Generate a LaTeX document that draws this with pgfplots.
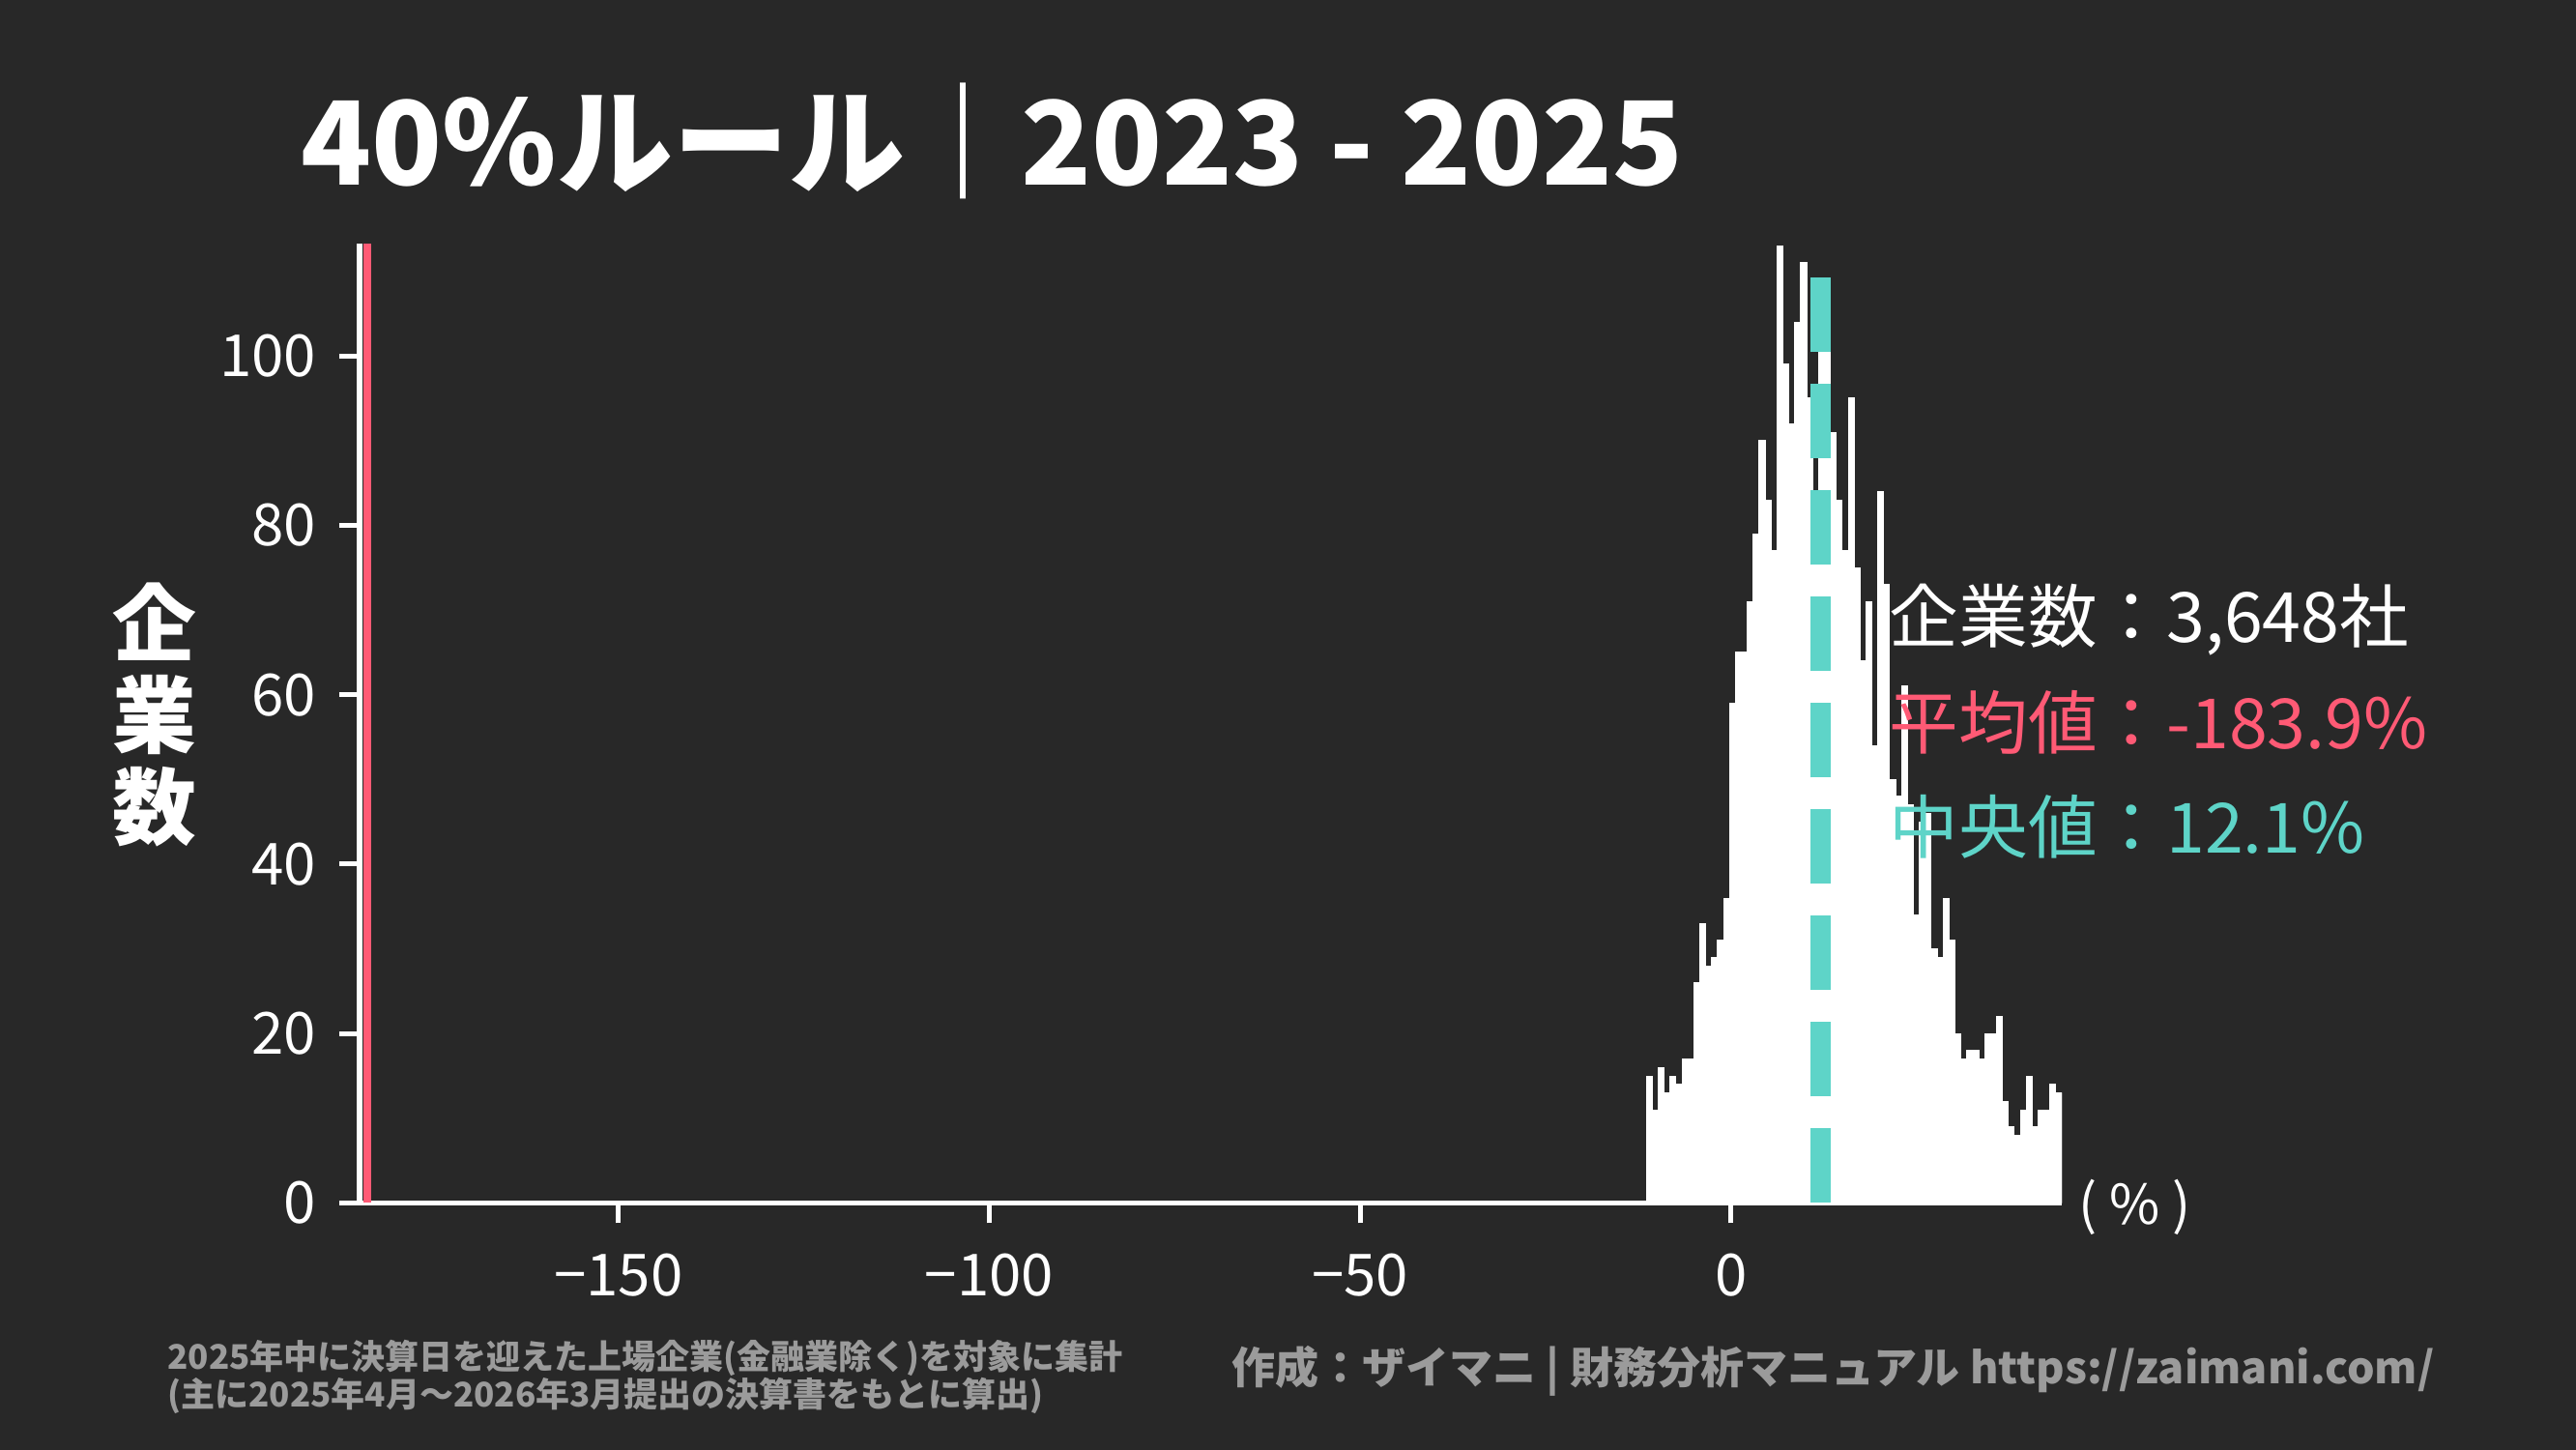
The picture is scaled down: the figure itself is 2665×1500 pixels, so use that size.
\documentclass[border=0pt]{standalone}
\usepackage{fontspec}
\setmainfont{Noto Sans CJK JP}
\usepackage{pgfplots}
\pgfplotsset{compat=1.18}

\definecolor{bg}{RGB}{40,40,40}
\definecolor{meanred}{RGB}{255,90,117}
\definecolor{medteal}{RGB}{94,212,200}
\definecolor{foot}{RGB}{155,155,155}

% histogram: left edge of each 0.8-wide bin, count
\pgfplotstableread{
x y
-11.4 15
-10.6 11
-9.8 16
-9.0 13
-8.2 15
-7.4 14
-6.6 17
-5.8 17
-5.0 26
-4.2 33
-3.4 28
-2.6 29
-1.8 31
-1.0 36
-0.2 59
0.6 65
1.4 65
2.2 71
3.0 79
3.8 90
4.6 83
5.4 77
6.2 113
7.0 99
7.8 92
8.6 104
9.4 111
10.2 95
11.0 80
11.8 106
12.6 103
13.4 91
14.2 83
15.0 77
15.8 95
16.6 75
17.4 64
18.2 71
19.0 54
19.8 84
20.6 73
21.4 50
22.2 48
23.0 61
23.8 47
24.6 34
25.4 45
26.2 46
27.0 30
27.8 29
28.6 36
29.4 31
30.2 20
31.0 17
31.8 18
32.6 18
33.4 17
34.2 20
35.0 20
35.8 22
36.6 12
37.4 9
38.2 8
39.0 11
39.8 15
40.6 9
41.4 11
42.2 11
43.0 14
43.8 13
44.6 13
}\histdata

\begin{document}
\begin{tikzpicture}[x=0.3pt,y=0.3pt]
\fill[bg] (0,0) rectangle (2665,1500);
\useasboundingbox (0,0) rectangle (2665,1500);

\begin{axis}[
  at={(111.6pt,76.65pt)}, anchor=south west,
  scale only axis, width=528.3pt, height=297.6pt,
  xmin=-184.9, xmax=44.6, ymin=0, ymax=113.2,
  axis x line*=bottom, axis y line*=left,
  axis line style={white, line width=1.6pt},
  tick style={white, line width=1.5pt},
  tick align=outside, major tick length=6.3pt,
  xtick={-150,-100,-50,0}, xticklabels={−150,−100,−50,0},
  ytick={0,20,40,60,80,100}, yticklabels={0,20,40,60,80,100},
  ticklabel style={font=\fontsize{18}{18}\selectfont, text=white},
  xticklabel style={yshift=-6pt},
  yticklabel style={xshift=-3.6pt},
]
\addplot[const plot, fill=white, draw=white, line width=0.3pt] table[x=x, y=y] {\histdata} \closedcycle;
\addplot[meanred, line width=2.4pt] coordinates {(-183.9,0) (-183.9,113.2)};
\addplot[medteal, line width=6.3pt, dash pattern=on 23.1pt off 9.9pt] coordinates {(12.1,0) (12.1,109.4)};
\end{axis}

\node[anchor=base west, inner sep=0, text=white, font=\fontsize{36}{36}\selectfont\bfseries] at (311,1308) {40\%ルール｜2023 - 2025};
\node[align=center, inner sep=0, text=white, font=\fontsize{26}{28.5}\selectfont\bfseries] at (160,761) {企\\業\\数};

\node[anchor=base west, inner sep=0, text=white, font=\fontsize{21.5}{21.5}\selectfont] at (1954,835) {企業数：3,648社};
\node[anchor=base west, inner sep=0, text=meanred, font=\fontsize{21.5}{21.5}\selectfont] at (1954,725) {平均値：-183.9\%};
\node[anchor=base west, inner sep=0, text=medteal, font=\fontsize{21.5}{21.5}\selectfont] at (1954,617) {中央値：12.1\%};

\node[anchor=west, inner sep=0, text=white, font=\fontsize{17}{17}\selectfont] at (2150,251) {( \% )};

\node[anchor=base west, inner sep=0, text=foot, font=\fontsize{10.5}{10.5}\selectfont\bfseries] at (173,83) {2025年中に決算日を迎えた上場企業(金融業除く)を対象に集計};
\node[anchor=base west, inner sep=0, text=foot, font=\fontsize{10.5}{10.5}\selectfont\bfseries] at (173,44) {(主に2025年4月～2026年3月提出の決算書をもとに算出)};
\node[anchor=base east, inner sep=0, text=foot, font=\fontsize{13.5}{13.5}\selectfont\bfseries] at (2519,68) {作成：ザイマニ | 財務分析マニュアル https://zaimani.com/};
\end{tikzpicture}
\end{document}
